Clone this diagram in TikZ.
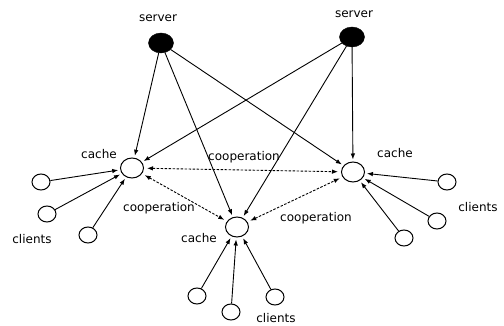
\documentclass[tikz,border=0pt]{standalone}
\usepackage{fontspec}
\setmainfont{DejaVu Sans}
\usetikzlibrary{arrows.meta,shapes.geometric}

\begin{document}
\begin{tikzpicture}[
  x=1pt, y=-1pt,
  font=\fontsize{12}{14}\selectfont,
  srv/.style={ellipse, fill=black, draw=black, minimum width=25pt, minimum height=20pt, inner sep=0pt},
  cachenode/.style={ellipse, draw=black, line width=1pt, minimum width=23pt, minimum height=20pt, inner sep=0pt},
  clnode/.style={ellipse, draw=black, line width=1pt, minimum width=18pt, minimum height=16pt, inner sep=0pt},
  lbl/.style={inner sep=1pt},
  arrow/.style={-{Latex[length=6pt, width=4.5pt]}, line width=0.9pt, shorten >=2pt},
  coop/.style={{Latex[length=6pt, width=4.5pt]}-{Latex[length=6pt, width=4.5pt]}, line width=0.9pt,
               dash pattern=on 2.5pt off 1.5pt, shorten >=3pt, shorten <=3pt}
]
\useasboundingbox (0,0) rectangle (504,326);

% servers
\node[srv] (srvA) at (161,43) {};
\node[srv] (srvB) at (352,37) {};
\node[lbl] (srvAlbl) at (158,18) {server};
\node[lbl] (srvBlbl) at (354,14) {server};

% caches
\node[cachenode] (cacheL) at (132,168) {};
\node[cachenode] (cacheR) at (353,172) {};
\node[cachenode] (cacheB) at (237,227) {};
\node[lbl] (cacheLlbl) at (99,154) {cache};
\node[lbl] (cacheRlbl) at (395,153) {cache};
\node[lbl] (cacheBlbl) at (199,238) {cache};

% clients
\node[clnode] (clL1) at (41,182) {};
\node[clnode] (clL2) at (47,214) {};
\node[clnode] (clL3) at (88,235) {};
\node[clnode] (clR1) at (447,182) {};
\node[clnode] (clR2) at (437,221) {};
\node[clnode] (clR3) at (404,238) {};
\node[clnode] (clB1) at (197,296) {};
\node[clnode] (clB2) at (231,312) {};
\node[clnode] (clB3) at (275,297) {};
\node[lbl] (clLlbl) at (32,239) {clients};
\node[lbl] (clRlbl) at (478,207) {clients};
\node[lbl] (clBlbl) at (276,318) {clients};

% server -> cache
\foreach \s in {srvA,srvB}
  \foreach \c in {cacheL,cacheR,cacheB}
    \draw[arrow] (\s) -- (\c);

% client -> cache
\foreach \c in {clL1,clL2,clL3}
  \draw[arrow] (\c) -- (cacheL);
\foreach \c in {clR1,clR2,clR3}
  \draw[arrow] (\c) -- (cacheR);
\foreach \c in {clB1,clB2,clB3}
  \draw[arrow] (\c) -- (cacheB);

% cooperation between caches
\draw[coop] (cacheL) -- (cacheR);
\draw[coop] (cacheL) -- (cacheB);
\draw[coop] (cacheB) -- (cacheR);
\node[lbl] (coopT) at (244,157) {cooperation};
\node[lbl] (coopL) at (159,208) {cooperation};
\node[lbl] (coopR) at (316,218) {cooperation};
\end{tikzpicture}
\end{document}
